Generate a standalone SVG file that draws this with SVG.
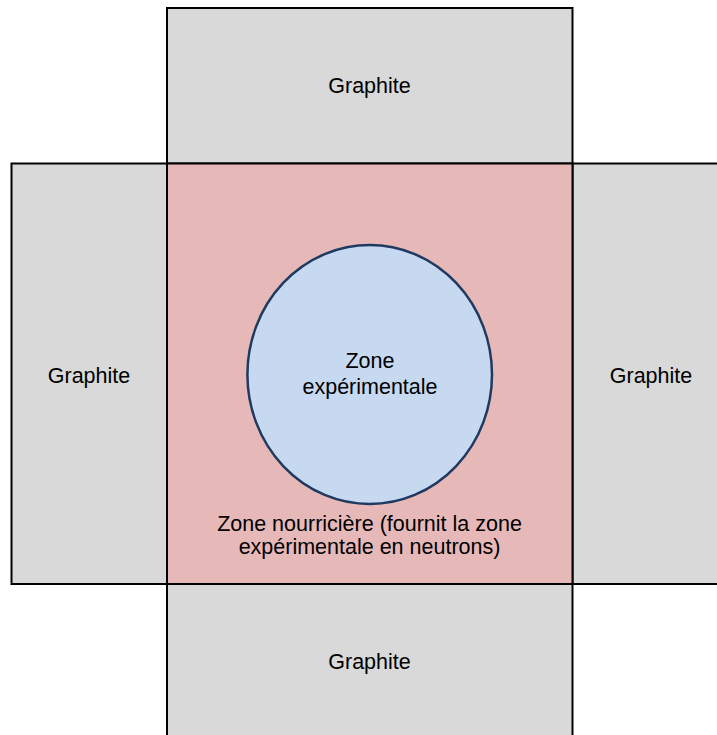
<svg xmlns="http://www.w3.org/2000/svg" width="717" height="735" viewBox="0 0 717 735">
<style>
.g{fill:#D9D9D9;stroke:#000;stroke-width:2}
.core{fill:#E6B9B8;stroke:#000;stroke-width:2}
.exp{fill:#C6D9F1;stroke:#1F3A60;stroke-width:2.5}
text{font-family:"Liberation Sans",Arial,sans-serif;font-size:21.5px;fill:#000;text-anchor:middle}
</style>
<rect width="717" height="735" fill="#fff"/>
<g id="graphite-top"><rect class="g" x="167" y="8" width="405.5" height="155.5"/><text x="369.5" y="93">Graphite</text></g>
<g id="graphite-left"><rect class="g" x="11.5" y="163.5" width="155.5" height="420.5"/><text x="89" y="383">Graphite</text></g>
<g id="graphite-right"><rect class="g" x="572.5" y="163.5" width="150" height="420.5"/><text x="651" y="383">Graphite</text></g>
<g id="graphite-bottom"><rect class="g" x="167" y="584" width="405.5" height="160"/><text x="369.5" y="669">Graphite</text></g>
<g id="zone-nourriciere"><rect class="core" x="167" y="163.5" width="405.5" height="420.5"/>
<text x="369.5" y="531">Zone nourricière (fournit la zone</text>
<text x="369.5" y="554">expérimentale en neutrons)</text></g>
<g id="zone-experimentale"><ellipse class="exp" cx="369.7" cy="374.5" rx="122.3" ry="129.5"/>
<text x="370" y="368">Zone</text>
<text x="370" y="394">expérimentale</text></g>
</svg>
